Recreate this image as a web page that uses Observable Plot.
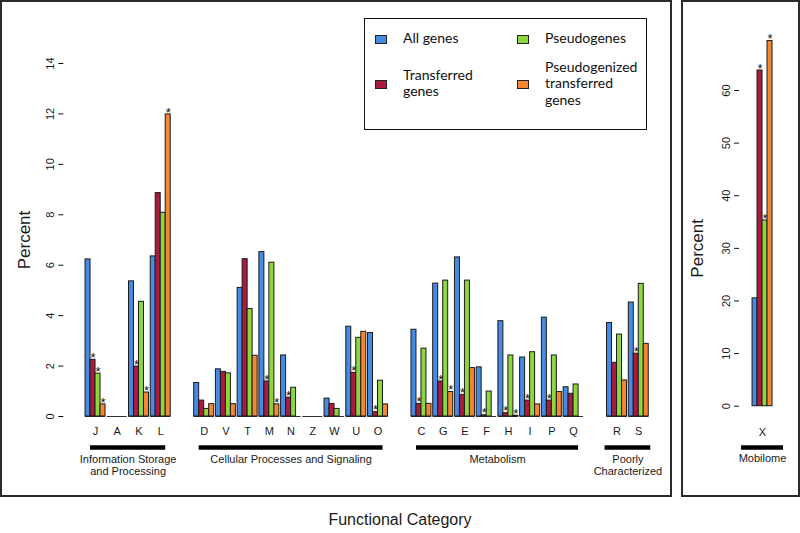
<!DOCTYPE html>
<html>
<head>
<meta charset="utf-8">
<script src="https://cdn.jsdelivr.net/npm/d3@7"></script>
<script src="https://cdn.jsdelivr.net/npm/@observablehq/plot@0.6"></script>
<style>
  body { margin: 0; background: #fff; }
  #root { position: relative; width: 800px; height: 533px; overflow: hidden;
          font-family: "Liberation Sans", Arial, sans-serif; color: #1a1a1a; }
  .abs { position: absolute; }
  .box { position: absolute; border: 2px solid #2a2a2a; box-sizing: border-box; }
  svg { overflow: visible; }
  g[aria-label="y-axis label"] text { font-size: 17px; }
  .legend { font-family: Lato, "Open Sans", sans-serif; font-size: 14px; color: #111; }
  .lg-text { position: absolute; line-height: 16.5px; white-space: pre; }
  .sw { position: absolute; width: 12px; height: 9px; border: 1px solid #222; box-sizing: border-box; }
  #xtitle { position: absolute; left: 0; width: 800px; top: 511px; text-align: center; font-size: 16px; }
</style>
</head>
<body>
<div id="root">
  <div class="box" style="left:0;top:0;width:672px;height:497px;"></div>
  <div class="box" style="left:681px;top:0;width:119px;height:497px;"></div>
  <div id="leftPlot" class="abs" style="left:0;top:0;"></div>
  <div id="leftGroups" class="abs" style="left:0;top:437px;"></div>
  <div id="rightPlot" class="abs" style="left:681px;top:0;"></div>
  <div id="rightGroups" class="abs" style="left:681px;top:437px;"></div>
  <div id="legend" class="legend"></div>
  <div id="xtitle">Functional Category</div>
</div>
<script>
// ---------------- data ----------------
const series = ["All genes", "Transferred genes", "Pseudogenes", "Pseudogenized transferred genes"];
const colors = ["#478ae3", "#aa1b3d", "#8dd63e", "#f48634"];

// x slots (blank strings are the spacers between functional groups)
const slots = ["J","A","K","L"," ","D","V","T","M","N","Z","W","U","O","  ","C","G","E","F","H","I","P","Q","   ","R","S"];
const categories = ["J","A","K","L","D","V","T","M","N","Z","W","U","O","C","G","E","F","H","I","P","Q","R","S"];

const allGenes          = [6.23, 0.00, 5.36, 6.35, 1.33, 1.87, 5.10, 6.52, 2.42, 0.00, 0.71, 3.56, 3.31, 3.44, 5.27, 6.31, 1.95, 3.78, 2.34, 3.92, 1.16, 3.71, 4.52];
const transferred       = [2.25, 0.00, 1.98, 8.86, 0.63, 1.77, 6.24, 1.39, 0.75, 0.00, 0.50, 1.73, 0.17, 0.50, 1.39, 0.86, 0.05, 0.13, 0.63, 0.63, 0.90, 2.13, 2.49];
const pseudogenes       = [1.70, 0.00, 4.55, 8.08, 0.30, 1.71, 4.26, 6.10, 1.14, 0.00, 0.30, 3.12, 1.42, 2.69, 5.39, 5.39, 0.99, 2.42, 2.55, 2.42, 1.27, 3.25, 5.26];
const pseudoTransferred = [0.48, 0.00, 0.95, 11.98, 0.49, 0.49, 2.41, 0.48, 0.00, 0.00, 0.00, 3.36, 0.48, 0.50, 0.97, 1.92, 0.00, 0.03, 0.48, 0.97, 0.00, 1.43, 2.88];

// significance stars (categories flagged per series)
const starsAllGenes          = [];
const starsTransferred       = ["J","K","M","N","U","O","C","G","E","F","H","I","P","S"];
const starsPseudogenes       = ["J"];
const starsPseudoTransferred = ["J","K","L","M","G","H"];

const groupNames = ["Information Storage\nand Processing", "Cellular Processes and Signaling", "Metabolism", "Poorly\nCharacterized"];
const groupFirst = ["J", "D", "C", "R"];
const groupLast  = ["L", "O", "Q", "S"];

const mobilomeCategories = ["X"];
const mobilome = [20.5, 63.8, 35.3, 69.4];
const mobilomeStars = ["Transferred genes", "Pseudogenes", "Pseudogenized transferred genes"];
const mobilomeGroup = ["Mobilome"];

const yTicksLeft  = [0, 2, 4, 6, 8, 10, 12, 14];
const yTicksRight = [0, 10, 20, 30, 40, 50, 60];

// ---------------- build tables ----------------
const BAR = 0.23;           // width of one bar in slot units
const SLOT = BAR * 4;       // occupied width of a category slot
const seriesValues = [allGenes, transferred, pseudogenes, pseudoTransferred];
const starSets = [starsAllGenes, starsTransferred, starsPseudogenes, starsPseudoTransferred];
const slotOf = c => slots.indexOf(c);

const rows = categories.flatMap((c, i) => series.map((s, k) => ({
  category: c, series: s, value: seriesValues[k][i],
  x1: slotOf(c) + k * BAR, x2: slotOf(c) + (k + 1) * BAR, star: starSets[k].includes(c)
})));
const groups = groupNames.map((name, i) => ({
  name, x1: slotOf(groupFirst[i]), x2: slotOf(groupLast[i]) + SLOT
}));

const mobRows = mobilomeCategories.flatMap((c, ci) => series.map((s, k) => ({
  category: c, series: s, value: mobilome[k], x1: ci + k * BAR, x2: ci + (k + 1) * BAR,
  star: mobilomeStars.includes(s)
})));
const mobGroups = mobilomeGroup.map((name) => ({name, x1: 0, x2: mobilomeCategories.length - 1 + SLOT}));

const font = {fontFamily: "Liberation Sans, Arial, sans-serif", fontSize: "11px", color: "#1a1a1a", background: "transparent", overflow: "visible"};
const barStroke = "#1b1b1b";

// ---------------- left panel ----------------
const LEFT = {width: 672, marginLeft: 63.3, marginRight: 22};
const xLeft = {domain: [-1, 26], axis: null};
const yGroup = {domain: [0, 1], axis: null};

const left = Plot.plot({
  width: LEFT.width, height: 445,
  marginTop: 63, marginBottom: 29, marginLeft: LEFT.marginLeft, marginRight: LEFT.marginRight,
  style: font,
  x: xLeft,
  y: {domain: [0, 14]},
  color: {domain: series, range: colors},
  marks: [
    Plot.axisY(yTicksLeft, {tickRotate: -90, tickSize: 5, tickPadding: 5, line: true, fontSize: 11,
      label: "Percent", labelArrow: false, labelAnchor: "center", labelOffset: 46, stroke: "#111"}),
    Plot.ruleY(categories, {x1: c => slotOf(c), x2: c => slotOf(c) + SLOT, y: () => 0, stroke: "#333"}),
    Plot.rectY(rows, {x1: "x1", x2: "x2", y: "value", fill: "series", stroke: barStroke, strokeWidth: 1}),
    Plot.text(rows.filter(d => d.star), {x: d => (d.x1 + d.x2) / 2, y: "value", text: () => "*", dy: -2, fontSize: 13, fill: "#111"}),
    Plot.text(categories, {x: c => slotOf(c) + SLOT / 2, text: c => c, frameAnchor: "bottom", lineAnchor: "top", dy: 11, fontSize: 11})
  ]
});
document.getElementById("leftPlot").append(left);

const leftG = Plot.plot({
  width: LEFT.width, height: 50, marginTop: 0, marginBottom: 40,
  marginLeft: LEFT.marginLeft, marginRight: LEFT.marginRight,
  style: font,
  x: xLeft,
  y: yGroup,
  marks: [
    Plot.ruleY(groups.filter(g => !g.name.startsWith("Poorly")), {x1: "x1", x2: "x2", y: () => 0, stroke: "#000", strokeWidth: 4.5, inset: 5}),
    Plot.ruleY(groups.filter(g => g.name.startsWith("Poorly")), {x1: "x1", x2: "x2", y: () => 0, stroke: "#000", strokeWidth: 4.5, inset: -2}),
    Plot.text(groups, {x: d => (d.x1 + d.x2) / 2, text: "name", frameAnchor: "top", lineAnchor: "top", dy: 17, fontSize: 11, lineHeight: 1.07})
  ]
});
document.getElementById("leftGroups").append(leftG);

// ---------------- right panel ----------------
const RIGHT = {width: 119, marginLeft: 58, marginRight: 14.3};
const xRight = {domain: [-0.6, 1.55], axis: null};

const right = Plot.plot({
  width: RIGHT.width, height: 445,
  marginTop: 90, marginBottom: 39.3, marginLeft: RIGHT.marginLeft, marginRight: RIGHT.marginRight,
  style: font,
  x: xRight,
  y: {domain: [0, 60]},
  color: {domain: series, range: colors},
  marks: [
    Plot.axisY(yTicksRight, {tickRotate: -90, tickSize: 5, tickPadding: 5, line: true, fontSize: 11,
      label: "Percent", labelArrow: false, labelAnchor: "center", labelOffset: 49, stroke: "#111"}),
    Plot.rectY(mobRows, {x1: "x1", x2: "x2", y: "value", fill: "series", stroke: barStroke, strokeWidth: 1}),
    Plot.text(mobRows.filter(d => d.star), {x: d => (d.x1 + d.x2) / 2, y: "value", text: () => "*", dy: -2, fontSize: 13, fill: "#111"}),
    Plot.text(mobilomeCategories, {x: (c, i) => i + SLOT / 2, text: c => c, frameAnchor: "bottom", lineAnchor: "top", dy: 21.5, fontSize: 11})
  ]
});
document.getElementById("rightPlot").append(right);

const rightG = Plot.plot({
  width: RIGHT.width, height: 50, marginTop: 0, marginBottom: 40,
  marginLeft: RIGHT.marginLeft, marginRight: RIGHT.marginRight,
  style: font,
  x: xRight,
  y: yGroup,
  marks: [
    Plot.ruleY(mobGroups, {x1: "x1", x2: "x2", y: () => 0, stroke: "#000", strokeWidth: 4.5, inset: -11}),
    Plot.text(mobGroups, {x: d => (d.x1 + d.x2) / 2, text: "name", frameAnchor: "top", lineAnchor: "top", dy: 17, fontSize: 11})
  ]
});
document.getElementById("rightGroups").append(rightG);

// ---------------- legend (HTML) ----------------
const legend = document.getElementById("legend");
const legendItems = [
  {label: "All genes", sw: [375, 35], text: [403, 29.7]},
  {label: "Transferred\ngenes", sw: [375, 80], text: [403, 66.5]},
  {label: "Pseudogenes", sw: [517, 35], text: [545, 29.7]},
  {label: "Pseudogenized\ntransferred\ngenes", sw: [517, 80], text: [545, 58.5]}
];
const box = document.createElement("div");
box.style.cssText = "position:absolute;left:364px;top:18px;width:283px;height:112px;border:1.5px solid #111;box-sizing:border-box;";
legend.append(box);
const legendOrder = ["All genes", "Transferred genes", "Pseudogenes", "Pseudogenized transferred genes"];
legendItems.forEach((it, i) => {
  const s = legendOrder[i];
  const sw = document.createElement("div");
  sw.className = "sw";
  sw.style.left = it.sw[0] + "px"; sw.style.top = it.sw[1] + "px";
  sw.style.background = colors[series.indexOf(s)];
  legend.append(sw);
  const t = document.createElement("div");
  t.className = "lg-text";
  t.style.left = it.text[0] + "px"; t.style.top = it.text[1] + "px";
  t.textContent = it.label;
  legend.append(t);
});
</script>
</body>
</html>
